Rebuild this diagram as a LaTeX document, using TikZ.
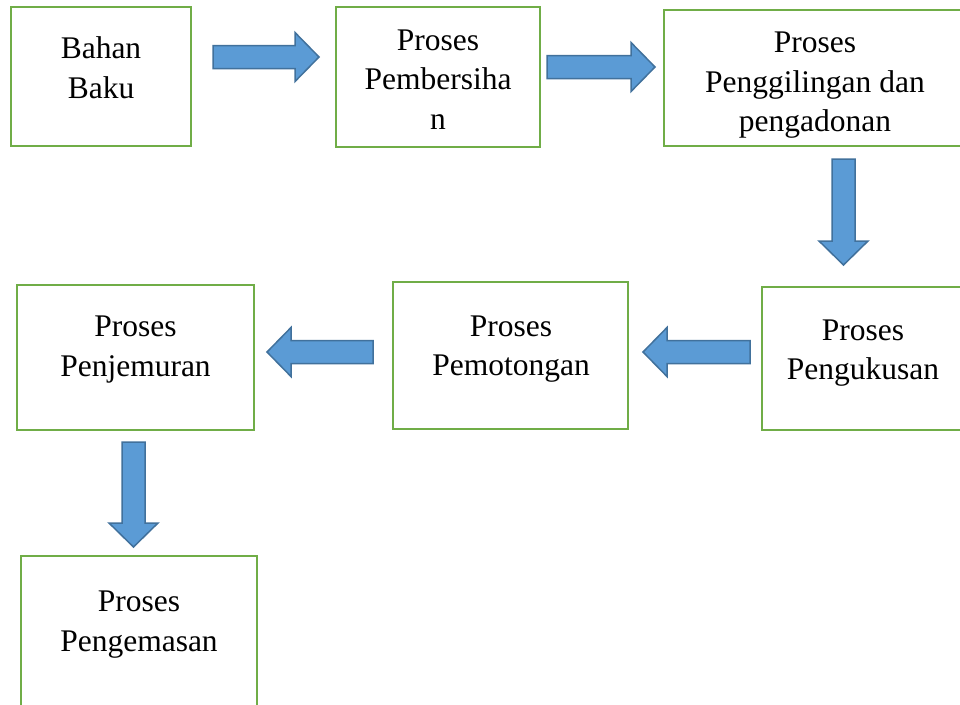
\documentclass[tikz,border=0pt]{standalone}
\usepackage{fontspec}
\setmainfont{Liberation Serif}
\definecolor{boxgreen}{HTML}{70AD47}
\definecolor{arrfill}{HTML}{5B9BD5}
\definecolor{arrdraw}{HTML}{41719C}
\begin{document}
\begin{tikzpicture}[x=1pt,y=-1pt,
  procbox/.style={draw=boxgreen,line width=2pt,fill=white,rectangle,inner sep=0pt,outer sep=0pt},
  proctext/.style={anchor=north,align=center,inner sep=0pt,outer sep=0pt,font=\fontsize{31.5}{39.5}\selectfont},
  blockarrow/.style={draw=arrdraw,fill=arrfill,line width=1.5pt,line join=miter},
  pics/barrow/.style={code={
    \draw[blockarrow] (0,-11.5) -- (#1-24,-11.5) -- (#1-24,-24.5) -- (#1,0)
      -- (#1-24,24.5) -- (#1-24,11.5) -- (0,11.5) -- cycle;}}
]
\clip (0,0) rectangle (960,704);
\fill[white] (0,0) rectangle (960,704);

% boxes
\node[procbox,minimum width=180pt,minimum height=139pt] (b1) at (101,76.5) {};
\node[procbox,minimum width=204pt,minimum height=140pt] (b2) at (438,77) {};
\node[procbox,minimum width=302pt,minimum height=136pt] (b3) at (815,78) {};
\node[procbox,minimum width=202pt,minimum height=143pt] (b4) at (863,358.5) {};
\node[procbox,minimum width=235pt,minimum height=147pt] (b5) at (510.5,355.5) {};
\node[procbox,minimum width=237pt,minimum height=145pt] (b6) at (135.5,357.5) {};
\node[procbox,minimum width=236pt,minimum height=164pt] (b7) at (139,638) {};

% texts
\node[proctext] (t1) at (101,37) {Bahan\\Baku};
\node[proctext] (t2) at (438,29.5) {Proses\\Pembersiha\\n};
\node[proctext] (t3) at (815,32.2) {Proses\\Penggilingan dan\\pengadonan};
\node[proctext] (t4) at (863,319.5) {Proses\\Pengukusan};
\node[proctext] (t5) at (511,315.5) {Proses\\Pemotongan};
\node[proctext] (t6) at (135.5,316.2) {Proses\\Penjemuran};
\node[proctext] (t7) at (139,591.2) {Proses\\Pengemasan};

% block arrows
\pic at (213,57) {barrow=106};
\pic at (547,67) {barrow=108};
\pic[rotate=-90] at (843.5,159) {barrow=106};
\pic[rotate=180] at (750,352) {barrow=107};
\pic[rotate=180] at (373,352) {barrow=106};
\pic[rotate=-90] at (133.5,442) {barrow=105};
\end{tikzpicture}
\end{document}
